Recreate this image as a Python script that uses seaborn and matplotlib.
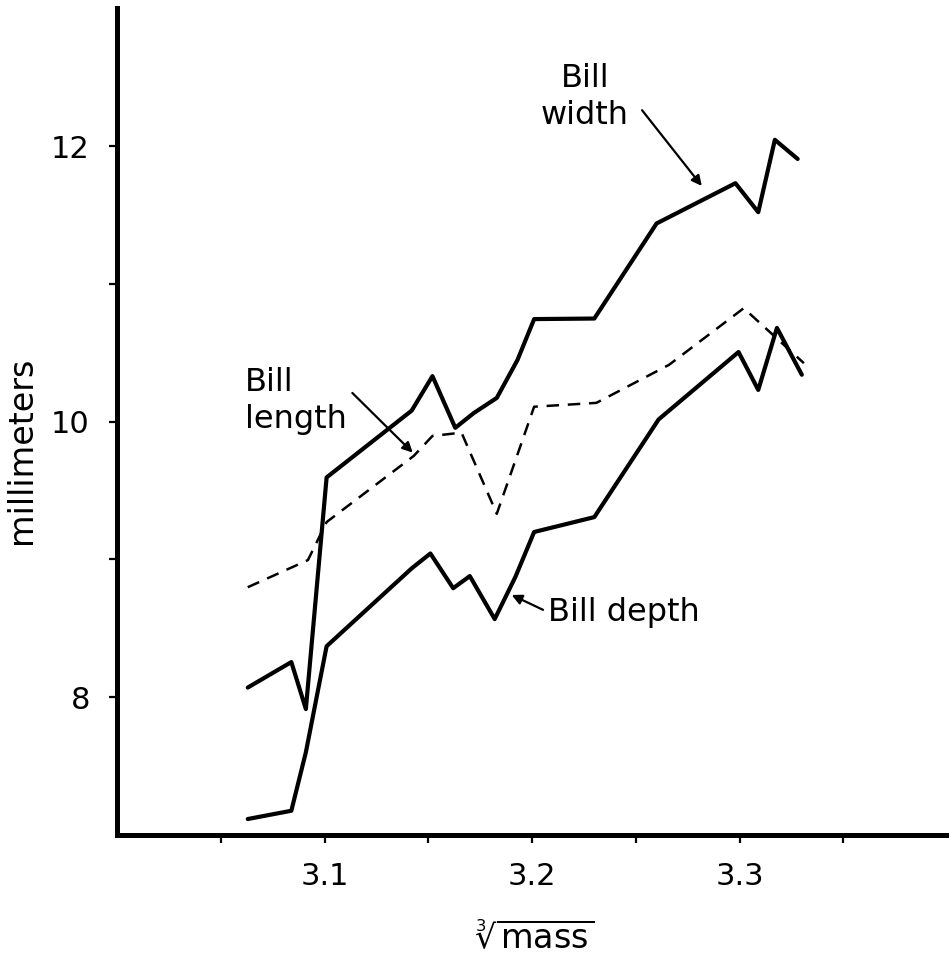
import matplotlib
matplotlib.use("Agg")
import matplotlib.pyplot as plt
import seaborn as sns
import pandas as pd

# ---- data ----
width_x = [3.063, 3.084, 3.091, 3.101, 3.142, 3.152, 3.163, 3.172, 3.183, 3.193,
           3.201, 3.230, 3.260, 3.298, 3.309, 3.317, 3.328]
width_y = [8.07, 8.255, 7.914, 9.595, 10.08, 10.33, 9.955, 10.063, 10.172, 10.448,
           10.744, 10.748, 11.438, 11.73, 11.52, 12.045, 11.906]

depth_x = [3.063, 3.084, 3.091, 3.101, 3.142, 3.151, 3.162, 3.170, 3.182, 3.192,
           3.201, 3.230, 3.261, 3.2995, 3.309, 3.318, 3.330]
depth_y = [7.116, 7.176, 7.60, 8.37, 8.935, 9.043, 8.791, 8.879, 8.567, 8.874,
           9.199, 9.307, 10.016, 10.505, 10.23, 10.68, 10.34]

length_x = [3.063, 3.092, 3.101, 3.143, 3.152, 3.166, 3.183, 3.201, 3.231, 3.266,
            3.302, 3.331]
length_y = [8.798, 8.995, 9.271, 9.751, 9.896, 9.92, 9.331, 10.108, 10.136, 10.412,
            10.823, 10.424]

x_ticks = [3.05, 3.10, 3.15, 3.20, 3.25, 3.30, 3.35]
x_ticklabels = ["", "3.1", "", "3.2", "", "3.3", ""]
y_ticks = [8, 9, 10, 11, 12]
y_ticklabels = ["8", "", "10", "", "12"]

sns.set_theme(style="white")
plt.rcParams["font.family"] = ["DejaVu Sans"]
plt.rcParams["mathtext.fontset"] = "dejavusans"
plt.rcParams["text.color"] = "black"

fig = plt.figure(figsize=(9.49, 9.67), dpi=100)
ax = fig.add_axes([0.1233, 0.1365, 0.8747, 0.855])

df_w = pd.DataFrame({"x": width_x, "y": width_y})
df_d = pd.DataFrame({"x": depth_x, "y": depth_y})
df_l = pd.DataFrame({"x": length_x, "y": length_y})

sns.lineplot(data=df_w, x="x", y="y", ax=ax, color="black", lw=3.0,
             sort=False, estimator=None)
sns.lineplot(data=df_d, x="x", y="y", ax=ax, color="black", lw=3.0,
             sort=False, estimator=None)
sns.lineplot(data=df_l, x="x", y="y", ax=ax, color="black", lw=1.8,
             sort=False, estimator=None, linestyle=(0, (5, 3.5)))

ax.set_xlim(3.0, 3.4)
ax.set_ylim(7.0, 13.0)
ax.set_xticks(x_ticks)
ax.set_xticklabels(x_ticklabels)
ax.set_yticks(y_ticks)
ax.set_yticklabels(y_ticklabels)

for s in ["top", "right"]:
    ax.spines[s].set_visible(False)
for s in ["left", "bottom"]:
    ax.spines[s].set_linewidth(3.6)
    ax.spines[s].set_color("black")

ax.tick_params(axis="both", which="both", direction="out", length=5.5, width=1.6,
               color="black", labelsize=22, labelcolor="black",
               bottom=True, left=True)
ax.tick_params(axis="x", pad=14)
ax.tick_params(axis="y", pad=14)

ax.set_xlabel("")
ax.set_ylabel("")
fig.text(535 / 949, 1 - 938 / 967, r"$\sqrt[3]{\mathrm{mass}}$", fontsize=24,
         ha="center", va="center", color="black")
fig.text(22 / 949, 1 - 450 / 967, "millimeters", fontsize=24, rotation=90,
         ha="center", va="center", color="black")

arrow_kw = dict(arrowstyle="-|>", color="black", lw=1.6, mutation_scale=15,
                shrinkA=0, shrinkB=0)

# Bill width
ax.text(3.2255, 12.357, "Bill\nwidth", fontsize=23, ha="center", va="center",
        linespacing=1.25, color="black")
ax.annotate("", xy=(3.2818, 11.71), xytext=(3.2530, 12.26), arrowprops=arrow_kw)

# Bill length
ax.text(3.0617, 10.148, "Bill\nlength", fontsize=23, ha="left", va="center",
        linespacing=1.25, color="black")
ax.annotate("", xy=(3.1425, 9.775), xytext=(3.1134, 10.208), arrowprops=arrow_kw)

# Bill depth
ax.text(3.2075, 8.613, "Bill depth", fontsize=23, ha="left", va="center",
        color="black")
ax.annotate("", xy=(3.1902, 8.742), xytext=(3.2053, 8.634), arrowprops=arrow_kw)

fig.savefig("out.png", dpi=100)
